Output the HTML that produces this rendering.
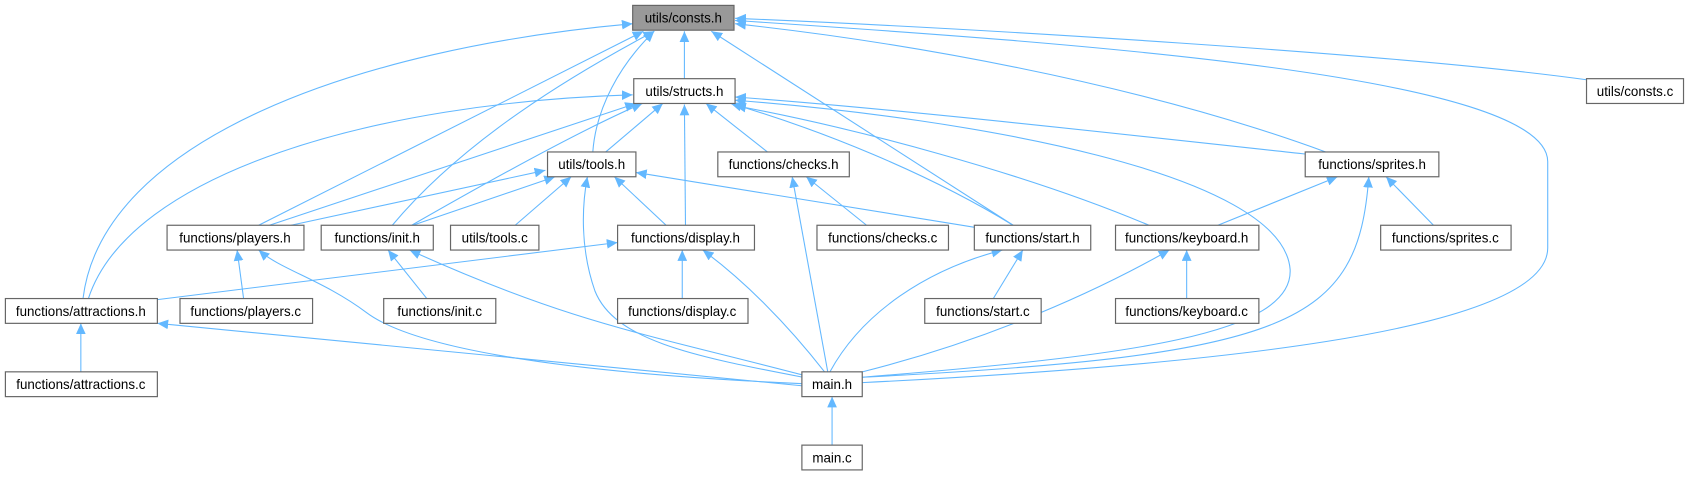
<!DOCTYPE html>
<html><head><meta charset="utf-8"><style>
html,body{margin:0;padding:0;background:#fff;}
svg{display:block}
text{font-family:"Liberation Sans",Arial,sans-serif;font-size:12.4px;fill:#000;text-anchor:middle;}
.n{fill:#fff;stroke:#666;stroke-width:1.1}
.e{fill:none;stroke:#63b8ff;stroke-width:1}
</style></head><body>
<svg width="1690" height="478" viewBox="0 0 1568 443.5" xmlns="http://www.w3.org/2000/svg">
<defs><marker id="a" markerUnits="userSpaceOnUse" markerWidth="11" markerHeight="9" refX="10" refY="4.5" orient="auto"><path d="M0,0 L10,4.5 L0,9 z" fill="#63b8ff"/></marker></defs>
<g class="e" marker-end="url(#a)">
<path d="M635,73 L635,29"/>
<path d="M1472,74 C1300,50 900,26 682,17"/>
<path d="M550,141 C553,100 575,60 607,29"/>
<path d="M77,277 C95,130 330,45 587,22"/>
<path d="M240,209 L597,29"/>
<path d="M364,209 C430,130 530,70 607,29"/>
<path d="M940,209 L660,29"/>
<path d="M1230,141 C1050,75 830,38 682,22"/>
<path d="M800,355 C1100,340 1436,310 1436,230 L1436,150 C1436,70 1000,40 682,19"/>
<path d="M562,141 L615,96"/>
<path d="M712,141 L655,96"/>
<path d="M1212,143 C1000,120 820,100 682,90"/>
<path d="M250,209 L590,96"/>
<path d="M382,209 C450,170 540,120 596,96"/>
<path d="M636,209 L635,97"/>
<path d="M940,209 C860,160 760,120 678,96"/>
<path d="M1066,209 C950,160 790,118 682,98"/>
<path d="M800,350 C1050,330 1200,310 1197,250 C1190,160 900,110 682,93"/>
<path d="M82,277 C120,160 350,95 587,88"/>
<path d="M270,209 L506,158"/>
<path d="M383,209 L515,164"/>
<path d="M478,209 L530,164"/>
<path d="M618,209 L570,164"/>
<path d="M905,211 L590,160"/>
<path d="M745,350 C640,330 570,315 552,270 C538,230 540,190 545,164"/>
<path d="M804,209 L748,164"/>
<path d="M768,345 L735,164"/>
<path d="M1130,209 L1241,164"/>
<path d="M1330,209 L1286,164"/>
<path d="M800,350 C1200,330 1260,300 1270,164"/>
<path d="M226,277 L220,232"/>
<path d="M745,356 C500,345 380,320 340,290 C300,260 260,250 240,232"/>
<path d="M396,277 L360,232"/>
<path d="M745,348 C600,310 530,300 380,232"/>
<path d="M633,277 L633,232"/>
<path d="M765,345 C730,300 690,260 652,232"/>
<path d="M146,278 L573,225"/>
<path d="M921,278 L949,232"/>
<path d="M770,345 C800,290 860,250 930,232"/>
<path d="M1101,277 L1101,232"/>
<path d="M800,345 C900,320 1000,280 1085,232"/>
<path d="M75,345 L75,300"/>
<path d="M745,358 L146,300"/>
<path d="M772,413 L772,368"/>
</g>
<rect x="587" y="5" width="94" height="23" style="fill:#999;stroke:#666;stroke-width:1.1"/><text x="634" y="21">utils/consts.h</text>
<rect class="n" x="588" y="73" width="94" height="23"/><text x="635" y="89">utils/structs.h</text>
<rect class="n" x="1472" y="73" width="90" height="23"/><text x="1517" y="89">utils/consts.c</text>
<rect class="n" x="508" y="141" width="82" height="23"/><text x="549" y="157">utils/tools.h</text>
<rect class="n" x="666" y="141" width="122" height="23"/><text x="727" y="157">functions/checks.h</text>
<rect class="n" x="1211" y="141" width="124" height="23"/><text x="1273" y="157">functions/sprites.h</text>
<rect class="n" x="155" y="209" width="127" height="23"/><text x="218" y="225">functions/players.h</text>
<rect class="n" x="298" y="209" width="104" height="23"/><text x="350" y="225">functions/init.h</text>
<rect class="n" x="418" y="209" width="82" height="23"/><text x="459" y="225">utils/tools.c</text>
<rect class="n" x="573" y="209" width="127" height="23"/><text x="636" y="225">functions/display.h</text>
<rect class="n" x="758" y="209" width="122" height="23"/><text x="819" y="225">functions/checks.c</text>
<rect class="n" x="904" y="209" width="108" height="23"/><text x="958" y="225">functions/start.h</text>
<rect class="n" x="1035" y="209" width="133" height="23"/><text x="1101" y="225">functions/keyboard.h</text>
<rect class="n" x="1281" y="209" width="121" height="23"/><text x="1341" y="225">functions/sprites.c</text>
<rect class="n" x="5" y="277" width="141" height="23"/><text x="75" y="293">functions/attractions.h</text>
<rect class="n" x="167" y="277" width="123" height="23"/><text x="228" y="293">functions/players.c</text>
<rect class="n" x="356" y="277" width="104" height="23"/><text x="408" y="293">functions/init.c</text>
<rect class="n" x="573" y="277" width="121" height="23"/><text x="633" y="293">functions/display.c</text>
<rect class="n" x="858" y="277" width="108" height="23"/><text x="912" y="293">functions/start.c</text>
<rect class="n" x="1035" y="277" width="133" height="23"/><text x="1101" y="293">functions/keyboard.c</text>
<rect class="n" x="5" y="345" width="141" height="23"/><text x="75" y="361">functions/attractions.c</text>
<rect class="n" x="744" y="345" width="56" height="23"/><text x="772" y="361">main.h</text>
<rect class="n" x="744" y="413" width="56" height="23"/><text x="772" y="429">main.c</text>
</svg>
</body></html>
